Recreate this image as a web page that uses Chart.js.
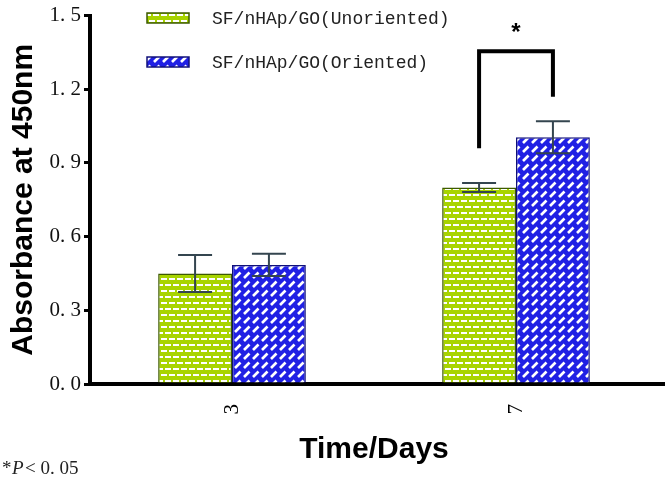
<!DOCTYPE html>
<html lang="en">
<head>
<meta charset="UTF-8">
<title>Absorbance at 450nm</title>
<script src="https://cdn.jsdelivr.net/npm/chart.js"></script>
<style>
    body { margin: 0; background: #fff; }
    .wrap { width: 665px; height: 482px; position: relative; }
</style>
</head>
<body>
<div class="wrap">
    <canvas id="chart" width="665" height="482"></canvas>
</div>
<script>
    const days = ['3', '7'];
    const seriesNames = ['SF/nHAp/GO(Unoriented)', 'SF/nHAp/GO(Oriented)'];
    const unoriented = [0.45, 0.80];
    const oriented = [0.485, 1.005];
    const unorientedErr = [0.075, 0.018];
    const orientedErr = [0.045, 0.065];
    // significance bracket on day 7: top, left foot, right foot
    const sigBracket = [1.355, 0.96, 1.17];

    const ctx = document.getElementById('chart').getContext('2d');

    function brickPattern() {
        const c = document.createElement('canvas');
        c.width = 16; c.height = 12;
        const g = c.getContext('2d');
        g.fillStyle = '#a8d400';
        g.fillRect(0, 0, 16, 12);
        g.fillStyle = '#ffffff';
        g.fillRect(1, 2, 6, 2);
        g.fillRect(9, 2, 6, 2);
        g.fillRect(0, 8, 3, 2);
        g.fillRect(5, 8, 6, 2);
        g.fillRect(13, 8, 3, 2);
        return ctx.createPattern(c, 'repeat');
    }

    function diagPattern() {
        const c = document.createElement('canvas');
        c.width = 9; c.height = 9;
        const g = c.getContext('2d');
        g.fillStyle = '#2020e4';
        g.fillRect(0, 0, 9, 9);
        g.strokeStyle = '#ffffff';
        g.lineWidth = 2.6;
        g.beginPath();
        g.moveTo(1, 8);
        g.lineTo(6.5, 2.5);
        g.stroke();
        return ctx.createPattern(c, 'repeat');
    }

    const errors = [unorientedErr, orientedErr];

    const errorBars = {
        id: 'errorBars',
        afterDatasetsDraw(chart) {
            const y = chart.scales.y;
            const c = chart.ctx;
            c.save();
            c.strokeStyle = '#34454f';
            c.lineWidth = 2;
            chart.data.datasets.forEach((ds, i) => {
                chart.getDatasetMeta(i).data.forEach((bar, j) => {
                    const v = ds.data[j], e = errors[i][j];
                    const top = y.getPixelForValue(v + e);
                    const bot = y.getPixelForValue(v - e);
                    c.beginPath();
                    c.moveTo(bar.x, top); c.lineTo(bar.x, bot);
                    c.moveTo(bar.x - 17, top); c.lineTo(bar.x + 17, top);
                    c.moveTo(bar.x - 17, bot); c.lineTo(bar.x + 17, bot);
                    c.stroke();
                });
            });
            c.restore();
        }
    };

    const extras = {
        id: 'extras',
        afterDraw(chart) {
            const c = chart.ctx;
            const y = chart.scales.y;
            const area = chart.chartArea;
            c.save();
            // x axis runs to the right edge
            c.strokeStyle = '#000';
            c.lineWidth = 4;
            c.beginPath();
            c.moveTo(area.right - 2, area.bottom);
            c.lineTo(chart.width, area.bottom);
            c.stroke();

            // bracket
            const xl = chart.getDatasetMeta(0).data[1].x;
            const xr = chart.getDatasetMeta(1).data[1].x;
            const top = y.getPixelForValue(sigBracket[0]);
            c.beginPath();
            c.moveTo(xl, y.getPixelForValue(sigBracket[1]));
            c.lineTo(xl, top);
            c.lineTo(xr, top);
            c.lineTo(xr, y.getPixelForValue(sigBracket[2]));
            c.stroke();
            c.fillStyle = '#000';
            c.font = 'bold 24px "Liberation Sans"';
            c.textAlign = 'center';
            c.textBaseline = 'middle';
            c.fillText('*', (xl + xr) / 2, top - 18);

            // legend
            const rows = [18, 62];
            c.textAlign = 'left';
            c.font = '18px "Liberation Mono"';
            chart.data.datasets.forEach((ds, i) => {
                c.fillStyle = ds.backgroundColor;
                c.fillRect(147, rows[i] - 5, 42, 10);
                c.strokeStyle = ds.borderColor;
                c.lineWidth = 1.5;
                c.strokeRect(147, rows[i] - 5, 42, 10);
                c.fillStyle = '#222';
                c.fillText(ds.label, 212, rows[i] + 1);
            });

            // footnote
            c.textBaseline = 'alphabetic';
            c.font = '19px "Liberation Serif"';
            c.fillText('*', 2, 474);
            c.font = 'italic 19px "Liberation Serif"';
            c.fillText('P', 12, 474);
            c.font = '19px "Liberation Serif"';
            c.fillText('< 0. 05', 25, 474);
            c.restore();
        }
    };

    new Chart(ctx, {
        type: 'bar',
        data: {
            labels: days,
            datasets: [{
                label: seriesNames[0],
                data: unoriented,
                backgroundColor: brickPattern(),
                borderColor: '#3d5a00',
                borderWidth: 1.5
            }, {
                label: seriesNames[1],
                data: oriented,
                backgroundColor: diagPattern(),
                borderColor: '#10107a',
                borderWidth: 1.5
            }]
        },
        options: {
            responsive: false,
            animation: false,
            layout: { padding: { top: 12, right: 7, left: 0, bottom: 0 } },
            datasets: { bar: { barPercentage: 1, categoryPercentage: 0.52 } },
            plugins: { legend: { display: false }, tooltip: { enabled: false } },
            scales: {
                x: {
                    afterFit(s) { s.height = 98; },
                    grid: { display: false },
                    border: { display: true, color: '#000', width: 4 },
                    ticks: {
                        color: '#000', minRotation: 90, maxRotation: 90, padding: 12,
                        font: { family: 'Liberation Serif', size: 21 }
                    },
                    title: {
                        display: true, text: 'Time/Days', color: '#000',
                        font: { family: 'Liberation Sans', size: 30, weight: 'bold' },
                        padding: { top: 0, bottom: 14 }
                    }
                },
                y: {
                    min: 0, max: 1.5,
                    afterFit(s) { s.width = 90; },
                    grid: { drawOnChartArea: false, color: '#000', lineWidth: 3, tickLength: 6 },
                    border: { display: true, color: '#000', width: 4 },
                    ticks: {
                        stepSize: 0.3, color: '#111', padding: 3,
                        font: { family: 'Liberation Serif', size: 21 },
                        callback: v => v.toFixed(1).replace('.', '. ')
                    },
                    title: {
                        display: true, text: 'Absorbance at 450nm', color: '#000',
                        font: { family: 'Liberation Sans', size: 30, weight: 'bold' },
                        padding: { top: 6, bottom: 0 }
                    }
                }
            }
        },
        plugins: [errorBars, extras]
    });
</script>
</body>
</html>
